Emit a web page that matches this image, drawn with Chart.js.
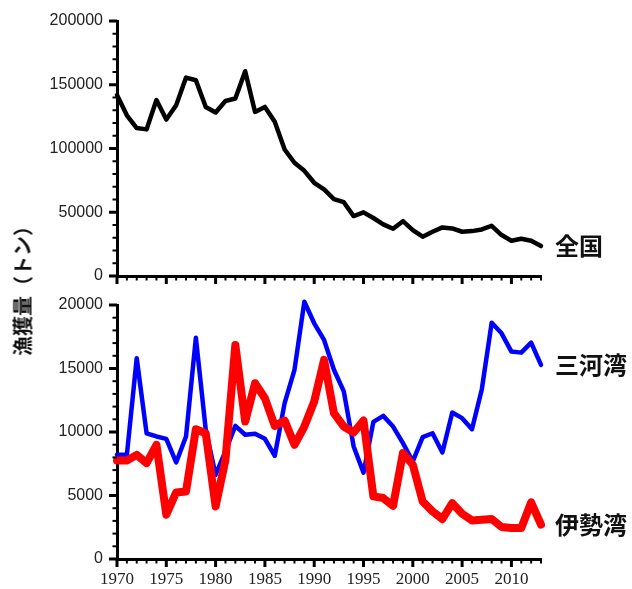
<!DOCTYPE html>
<html>
<head>
<meta charset="utf-8">
<script src="https://cdn.jsdelivr.net/npm/chart.js@4"></script>
<style>
  html, body { margin: 0; padding: 0; background: #fff; }
  body { width: 632px; height: 589px; position: relative; overflow: hidden; }
  #topChart { position: absolute; left: 0; top: 0; }
  #bottomChart { position: absolute; left: 0; top: 290px; }
  #ylabel {
    position: absolute; left: 22px; top: 286px;
    transform: translate(-50%, -50%) rotate(-90deg);
    white-space: nowrap; color: #111;
    font: bold 20px "Noto Sans CJK JP";
  }
</style>
</head>
<body>
<canvas id="topChart" width="632" height="290"></canvas>
<canvas id="bottomChart" width="632" height="299"></canvas>
<div id="ylabel">漁獲量（トン）</div>
<script>
// 年別漁獲量（トン）
const years = [1970,1971,1972,1973,1974,1975,1976,1977,1978,1979,
               1980,1981,1982,1983,1984,1985,1986,1987,1988,1989,
               1990,1991,1992,1993,1994,1995,1996,1997,1998,1999,
               2000,2001,2002,2003,2004,2005,2006,2007,2008,2009,
               2010,2011,2012,2013];

const yearTicks = [1970,1975,1980,1985,1990,1995,2000,2005,2010];

const zenkoku = [142000,126000,116000,115000,138000,122700,134000,155600,153500,132600,
                 128200,137300,139200,160600,128700,132600,120900,99200,88800,82500,
                 73100,67900,60300,57900,47000,49900,45500,40500,37000,43000,
                 36000,30800,34700,38100,37300,34700,35200,36500,39400,32100,
                 27700,29200,27700,23500];

const mikawa = [8200,8200,15800,9900,9650,9460,7600,9650,17430,10170,
                6630,8500,10480,9780,9860,9460,8130,12270,14900,20260,
                18560,17250,14900,13200,8860,6800,10800,11270,10430,9120,
                7680,9590,9900,8390,11530,11090,10220,13370,18610,17770,
                16330,16250,17040,15280];

const ise = [7760,7760,8200,7550,8990,3490,5240,5320,10220,9900,
             4140,7810,16850,10830,13840,12660,10480,10900,8990,10430,
             12400,15680,11480,10430,9960,10900,4930,4800,4190,8340,
             7420,4530,3750,3150,4400,3560,3040,3090,3150,2520,
             2440,2440,4460,2700];

const seriesNames = ['全国', '三河湾', '伊勢湾'];

const toPoints = vals => vals.map((v, i) => ({ x: years[i], y: v }));

// minor/major ticks on both axes
const axisTicks = {
  id: 'axisTicks',
  afterDraw(chart, args, opts) {
    const { ctx, chartArea: a, scales: { x, y } } = chart;
    ctx.save();
    ctx.strokeStyle = '#000';
    for (const yr of years) {
      const px = x.getPixelForValue(yr);
      const major = yr % 5 === 0;
      ctx.lineWidth = major ? 3 : 2;
      ctx.beginPath();
      ctx.moveTo(px, a.bottom);
      ctx.lineTo(px, a.bottom + (major ? 8 : 4.5));
      ctx.stroke();
    }
    for (let v = 0; v <= y.max; v += opts.minor) {
      const py = y.getPixelForValue(v);
      const major = v % opts.major === 0;
      ctx.lineWidth = major ? 3 : 2;
      ctx.beginPath();
      ctx.moveTo(a.left, py);
      ctx.lineTo(a.left - (major ? 8 : 4.5), py);
      ctx.stroke();
    }
    ctx.restore();
  }
};

// series name written next to the last point of each line
const endLabels = {
  id: 'endLabels',
  afterDraw(chart) {
    const { ctx, chartArea: a } = chart;
    ctx.save();
    ctx.fillStyle = '#111';
    ctx.font = 'bold 24px "Noto Sans CJK JP"';
    ctx.textBaseline = 'middle';
    ctx.textAlign = 'left';
    chart.data.datasets.forEach((ds, i) => {
      const meta = chart.getDatasetMeta(i);
      const last = meta.data[meta.data.length - 1];
      ctx.fillText(ds.label, a.right + 14, last.y);
    });
    ctx.restore();
  }
};

function makeChart(id, datasets, yMax, yStep, yMinor, showYears, padTop, xHeight) {
  return new Chart(document.getElementById(id), {
    type: 'line',
    data: { datasets },
    options: {
      responsive: false,
      animation: false,
      events: [],
      layout: { padding: { top: padTop, right: 91, bottom: 0, left: 0 } },
      elements: {
        point: { radius: 0 },
        line: { tension: 0, borderJoinStyle: 'round', borderCapStyle: 'round' }
      },
      plugins: {
        legend: { display: false },
        tooltip: { enabled: false },
        axisTicks: { minor: yMinor, major: yStep }
      },
      scales: {
        x: {
          type: 'linear',
          min: 1970, max: 2013,
          grid: { display: true, drawOnChartArea: false, drawTicks: false },
          border: { display: true, color: '#000', width: 3 },
          ticks: {
            display: showYears,
            autoSkip: false,
            maxRotation: 0,
            padding: 10,
            color: '#222',
            font: { family: 'Liberation Serif', size: 17 },
            callback: v => String(v)
          },
          afterBuildTicks(s) { s.ticks = yearTicks.map(v => ({ value: v })); },
          afterFit(s) { s.height = xHeight; }
        },
        y: {
          min: 0, max: yMax,
          grid: { display: true, drawOnChartArea: false, drawTicks: false },
          border: { display: true, color: '#000', width: 3 },
          ticks: {
            stepSize: yStep,
            padding: 14,
            color: '#222',
            font: { family: 'Liberation Sans', size: 16 },
            callback: v => String(v)
          },
          afterFit(s) { s.width = 117; s.paddingTop = 0; s.paddingBottom = 0; }
        }
      }
    },
    plugins: [axisTicks, endLabels]
  });
}

makeChart('topChart', [
  { label: seriesNames[0], data: toPoints(zenkoku), borderColor: '#000', borderWidth: 4.5, clip: false }
], 200000, 50000, 10000, false, 21, 14);

makeChart('bottomChart', [
  { label: seriesNames[2], data: toPoints(ise), borderColor: '#ff0000', borderWidth: 8, clip: false },
  { label: seriesNames[1], data: toPoints(mikawa), borderColor: '#0000ff', borderWidth: 4.5, clip: false }
], 20000, 5000, 1000, true, 15, 30);
</script>
</body>
</html>
